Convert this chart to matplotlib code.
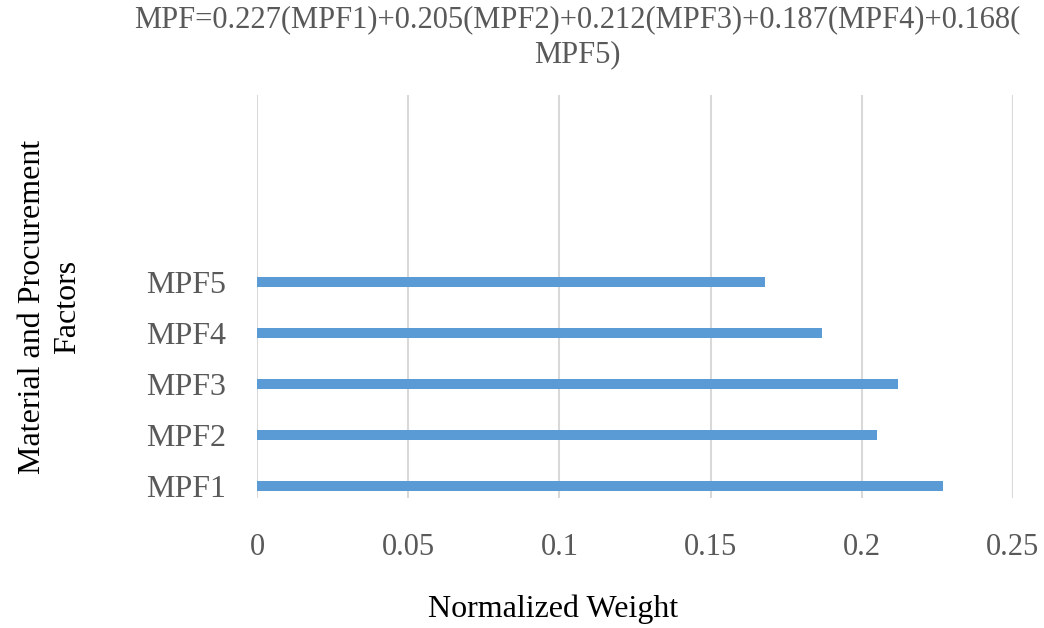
import matplotlib.pyplot as plt
import numpy as np

plt.rcParams['font.family'] = ['Liberation Serif', 'DejaVu Serif']

# Weights of each material and procurement factor
factors = ['MPF1', 'MPF2', 'MPF3', 'MPF4', 'MPF5']
weights = [0.227, 0.205, 0.212, 0.187, 0.168]
xticks = [0, 0.05, 0.1, 0.15, 0.2, 0.25]
xtick_labels = ['0', '0.05', '0.1', '0.15', '0.2', '0.25']

title = 'MPF=0.227(MPF1)+0.205(MPF2)+0.212(MPF3)+0.187(MPF4)+0.168(\nMPF5)'

text_col = '#595959'
bar_col = '#5B9BD5'
grid_col = '#D9D9D9'

fig = plt.figure(figsize=(10.44, 6.28), dpi=100)
fig.patch.set_facecolor('white')
ax = fig.add_axes([0.2462, 0.207, 0.7241, 0.6417])

pos = np.arange(len(factors))
ax.barh(pos, weights, height=0.2, color=bar_col, zorder=3)

ax.set_xlim(0, 0.25)
ax.set_ylim(-0.235, 7.67)
ax.set_xticks(xticks)
ax.set_xticklabels(xtick_labels)
ax.set_yticks(pos)
ax.set_yticklabels(factors)

ax.grid(axis='x', color=grid_col, linewidth=1.5, zorder=0)
for s in ax.spines.values():
    s.set_visible(False)
ax.tick_params(axis='both', length=0, colors=text_col)
ax.tick_params(axis='x', labelsize=22, pad=25)
ax.tick_params(axis='y', labelsize=23, pad=22)

fig.text(0.553, 0.992, title, ha='center', va='top', fontsize=22,
         color=text_col, linespacing=1.3)
fig.text(0.53, 0.03, 'Normalized Weight', ha='center', va='center',
         fontsize=23, color='black')
fig.text(0.048, 0.511, 'Material and Procurement\nFactors', ha='center',
         va='center', rotation=90, fontsize=23, color='black',
         linespacing=1.25)

fig.savefig('out.png', dpi=100)
